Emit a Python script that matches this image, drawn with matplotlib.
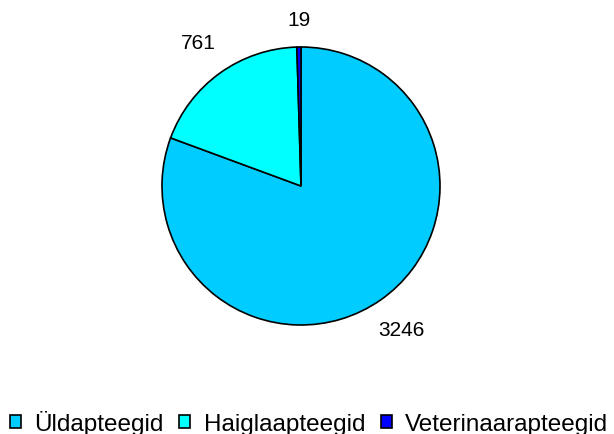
import numpy as np
import matplotlib
matplotlib.use('Agg')
import matplotlib.pyplot as plt

plt.rcParams['font.family'] = ['Liberation Sans', 'DejaVu Sans']

labels = ['Üldapteegid', 'Haiglaapteegid', 'Veterinaarapteegid']
values = [3246, 761, 19]
colors = ['#00CCFF', '#00FFFF', '#0000FF']
label_dist = [1.27, 1.26, 1.19]

fig = plt.figure(figsize=(6.14, 4.34), dpi=100, facecolor='white')
ax = fig.add_axes([162 / 614, 109 / 434, 278 / 614, 278 / 434])

wedges, _ = ax.pie(values, colors=colors, startangle=90, counterclock=False,
                   radius=1, wedgeprops=dict(edgecolor='black', linewidth=1.2))
ax.set_xlim(-1, 1)
ax.set_ylim(-1, 1)
ax.set_aspect('equal')
ax.axis('off')

# value labels outside the slices
for w, v, d in zip(wedges, values, label_dist):
    ang = np.deg2rad((w.theta1 + w.theta2) / 2)
    ax.text(d * np.cos(ang), d * np.sin(ang), str(v), ha='center', va='center',
            fontsize=15, clip_on=False)

fig.legend(wedges, labels, loc='center left', bbox_to_anchor=(10 / 614, 11 / 434),
           ncol=3, frameon=False, fontsize=17.5, handlelength=0.45, handleheight=0.45,
           handletextpad=0.55, columnspacing=0.65, borderpad=0, borderaxespad=0)

plt.savefig('out.png', dpi=100)
